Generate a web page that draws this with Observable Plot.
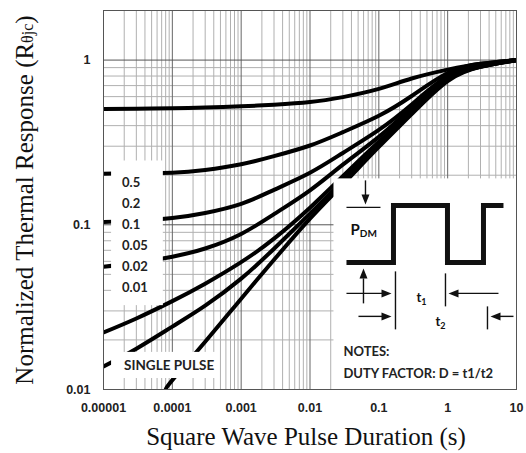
<!DOCTYPE html>
<html><head><meta charset="utf-8">
<script src="https://cdn.jsdelivr.net/npm/d3@7"></script>
<script src="https://cdn.jsdelivr.net/npm/@observablehq/plot@0.6"></script>
<style>html,body{margin:0;padding:0;background:#fff;} #chart svg{display:block;}</style>
</head><body><div id="chart"></div>
<script>
// ---- data ----
const times = [1e-5, 3e-5, 1e-4, 3e-4, 1e-3, 3e-3, 1e-2, 3e-2, 0.1, 0.3, 1, 3, 10];
const dutyLabels = ["0.5", "0.2", "0.1", "0.05", "0.02", "0.01"];
const z_d05  = [0.505, 0.507, 0.510, 0.515, 0.524, 0.536, 0.556, 0.596, 0.668, 0.773, 0.875, 0.951, 1.0];
const z_d02  = [0.204, 0.206, 0.207, 0.215, 0.233, 0.261, 0.303, 0.365, 0.459, 0.605, 0.834, 0.950, 1.0];
const z_d01  = [0.104, 0.106, 0.110, 0.118, 0.134, 0.163, 0.207, 0.273, 0.377, 0.538, 0.800, 0.933, 1.0];
const z_d005 = [0.0556, 0.0588, 0.064, 0.0718, 0.0880, 0.116, 0.162, 0.232, 0.342, 0.514, 0.778, 0.920, 1.0];
const z_d002 = [0.0222, 0.0270, 0.0344, 0.0439, 0.0593, 0.0824, 0.127, 0.197, 0.319, 0.490, 0.766, 0.912, 1.0];
const z_d001 = [0.0138, 0.0177, 0.0241, 0.0323, 0.0471, 0.0716, 0.117, 0.185, 0.310, 0.477, 0.756, 0.915, 1.0];
const singleLabel = "SINGLE PULSE";
const singleTimes = [8e-5, 1e-4, 3e-4, 1e-3, 3e-3, 1e-2, 3e-2, 0.1, 0.3, 1, 3, 10];
const z_single = [0.01, 0.0114, 0.0195, 0.0356, 0.0613, 0.109, 0.176, 0.297, 0.47, 0.746, 0.91, 1.0];

const xTicks = [1e-5, 1e-4, 1e-3, 1e-2, 0.1, 1, 10];
const xTickLabels = ["0.00001", "0.0001", "0.001", "0.01", "0.1", "1", "10"];
const yTicks = [0.01, 0.1, 1];
const yTickLabels = ["0.01", "0.1", "1"];
const xTitle = "Square Wave Pulse Duration (s)";
const yTitle = "Normalized Thermal Response (R";
const yTitleSub = "θjc";
const notes = ["NOTES:", "DUTY FACTOR: D = t1/t2"];

// ---- build table ----
const dutySeries = [z_d05, z_d02, z_d01, z_d005, z_d002, z_d001];
const rows = [];
dutySeries.forEach((zs, k) => zs.forEach((z, i) => rows.push({t: times[i], z, s: dutyLabels[k]})));
z_single.forEach((z, i) => rows.push({t: singleTimes[i], z, s: singleLabel}));

// grid ticks (decade structure of the log axes)
const minorX = [], minorY = [];
for (let e = -5; e <= 0; e++) for (let k = 2; k <= 9; k++) minorX.push(k * Math.pow(10, e));
for (let e = -2; e <= -1; e++) for (let k = 2; k <= 9; k++) minorY.push(k * Math.pow(10, e));

// white annotation panels (data coordinates)
const panels = [
  {x1: 1.31e-5, x2: 7.4e-5, y1: 0.0323, y2: 0.244},
  {x1: 1.31e-5, x2: 4.4e-4, y1: 0.01166, y2: 0.0168},
  {x1: 0.0223, x2: 10, y1: 0.01, y2: 0.19}
];

const plot = Plot.plot({
  width: 526, height: 453,
  marginLeft: 103, marginRight: 10, marginTop: 10, marginBottom: 64,
  style: {background: "#fff", fontFamily: "Liberation Sans, Arial, sans-serif"},
  x: {type: "log", domain: [1e-5, 10]},
  y: {type: "log", domain: [0.01, 2]},
  marks: [
    Plot.ruleX(minorX, {stroke: "#b0b0b0", strokeWidth: 1}),
    Plot.ruleY(minorY, {stroke: "#b0b0b0", strokeWidth: 1}),
    Plot.ruleX(xTicks, {stroke: "#666", strokeWidth: 1}),
    Plot.ruleY(yTicks, {stroke: "#555", strokeWidth: 1}),
    Plot.line(rows, {x: "t", y: "z", z: "s", stroke: "#000", strokeWidth: 4, curve: "natural", clip: true}),
    Plot.rect(panels, {x1: "x1", x2: "x2", y1: "y1", y2: "y2", fill: "#fff"}),
    Plot.frame({stroke: "#555", strokeWidth: 1}),
    Plot.axisX({ticks: xTicks, tickFormat: d => xTickLabels[xTicks.indexOf(d)], tickSize: 0, tickPadding: 14,
      fontSize: 12.5, fontWeight: "bold", fill: "#222", label: null}),
    Plot.axisY({ticks: yTicks, tickFormat: d => yTickLabels[yTicks.indexOf(d)], tickSize: 0, tickPadding: 13,
      fontSize: 12.5, fontWeight: "bold", fill: "#222", label: null})
  ]
});
document.getElementById("chart").appendChild(plot);

const sx = plot.scale("x"), sy = plot.scale("y");
const svg = d3.select(plot);

// axis titles
svg.append("text").attr("x", 306).attr("y", 445).attr("text-anchor", "middle")
  .attr("font-family", "Liberation Serif, Times New Roman, serif").attr("font-size", 25).attr("fill", "#111")
  .text(xTitle);
const yt = svg.append("text").attr("transform", "translate(33,200) rotate(-90)").attr("text-anchor", "middle")
  .attr("font-family", "Liberation Serif, Times New Roman, serif").attr("font-size", 25).attr("fill", "#111");
yt.append("tspan").text(yTitle);
yt.append("tspan").attr("font-size", 16).text(yTitleSub);
yt.append("tspan").text(")");

// duty-cycle labels
const lab = "Lato, Open Sans, sans-serif";
const p0 = panels[0];
const labX = sx.apply(p0.x1) + 11, labTop = sy.apply(p0.y2);
dutyLabels.forEach((d, i) => {
  svg.append("text").attr("x", labX).attr("y", labTop + 22 + 21 * i).attr("dy", "0.35em").attr("text-anchor", "start")
    .attr("font-family", lab).attr("font-weight", "bold").attr("font-size", 13).attr("fill", "#222").text(d);
});
const p1 = panels[1];
svg.append("text").attr("x", sx.apply(p1.x1) + 13).attr("y", (sy.apply(p1.y1) + sy.apply(p1.y2)) / 2).attr("dy", "0.35em")
  .attr("text-anchor", "start")
  .attr("font-family", lab).attr("font-weight", "bold").attr("font-size", 13.5).attr("fill", "#222").text(singleLabel);

// inset schematic (relative to the inset panel)
const p2 = panels[2];
const ox = sx.apply(p2.x1), oy = sy.apply(p2.y2);
const g = svg.append("g").attr("transform", `translate(${ox},${oy})`).attr("text-anchor", "start");
const ink = "#111";
function line(x1, y1, x2, y2, w) { g.append("line").attr("x1", x1).attr("y1", y1).attr("x2", x2).attr("y2", y2).attr("stroke", ink).attr("stroke-width", w || 1.4); }
function head(x, y, dir) { // tip at (x,y)
  const L = 10, W = 4;
  let pts;
  if (dir === "down") pts = [[x, y], [x - W, y - L], [x + W, y - L]];
  if (dir === "up") pts = [[x, y], [x - W, y + L], [x + W, y + L]];
  if (dir === "right") pts = [[x, y], [x - L, y - W], [x - L, y + W]];
  if (dir === "left") pts = [[x, y], [x + L, y - W], [x + L, y + W]];
  g.append("polygon").attr("points", pts.map(p => p.join(",")).join(" ")).attr("fill", ink);
}
// pulse train
g.append("path").attr("d", "M13,84 H60 V27 H114 V84 H150 V27 H170").attr("fill", "none")
  .attr("stroke", ink).attr("stroke-width", 5).attr("stroke-linejoin", "miter");
// P_DM marker
line(32, 2, 32, 20); head(32, 26, "down");
line(13, 29, 47, 29);
const pdm = g.append("text").attr("x", 17).attr("y", 57).attr("font-family", lab).attr("font-weight", "bold").attr("font-size", 15).attr("fill", ink);
pdm.append("tspan").text("P");
pdm.append("tspan").attr("font-size", 10).attr("dy", 2).text("DM");
line(30, 125, 30, 100); head(30, 90, "up");
// t1 / t2 dimension arrows
line(62, 93, 62, 151);
line(13, 115, 50, 115); head(58, 115, "right");
line(25, 138, 50, 138); head(58, 138, "right");
line(112, 95, 112, 128);
line(165, 115, 124, 115); head(115, 115, "left");
line(154, 128, 154, 151);
line(180, 138, 166, 138); head(157, 138, "left");
const t1 = g.append("text").attr("x", 83).attr("y", 124).attr("font-family", lab).attr("font-weight", "bold").attr("font-size", 13).attr("fill", ink);
t1.append("tspan").text("t"); t1.append("tspan").attr("font-size", 9).attr("dy", 3).text("1");
const t2 = g.append("text").attr("x", 102).attr("y", 148).attr("font-family", lab).attr("font-weight", "bold").attr("font-size", 13).attr("fill", ink);
t2.append("tspan").text("t"); t2.append("tspan").attr("font-size", 9).attr("dy", 3).text("2");
notes.forEach((n, i) => {
  g.append("text").attr("x", 10).attr("y", 173 + 22 * i).attr("dy", "0.35em").attr("font-family", lab)
    .attr("font-weight", "bold").attr("font-size", 13).attr("fill", "#222").text(n);
});
</script>
</body></html>
